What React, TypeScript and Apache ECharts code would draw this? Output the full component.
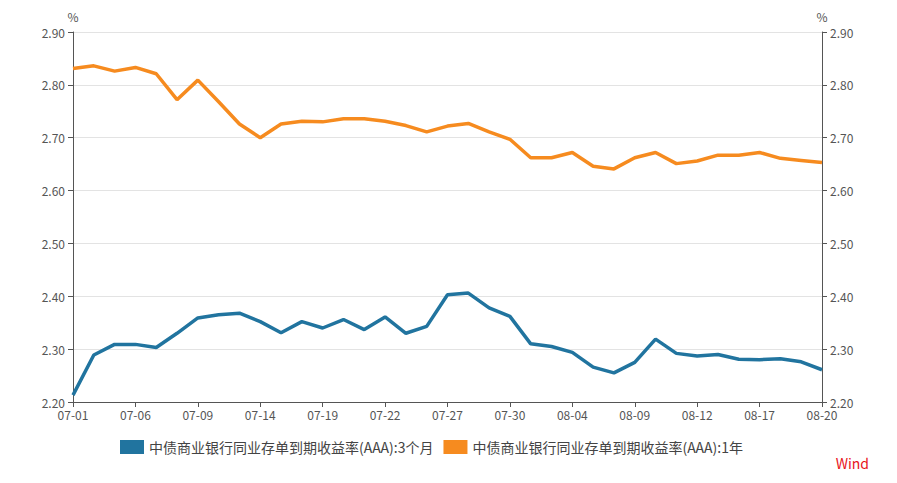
import React, { useEffect, useRef } from "react";
import * as echarts from "echarts";

const dates = [
  "07-01", "07-02", "07-05", "07-06", "07-07", "07-08", "07-09",
  "07-12", "07-13", "07-14", "07-15", "07-16",
  "07-19", "07-20", "07-21", "07-22", "07-23",
  "07-26", "07-27", "07-28", "07-29", "07-30",
  "08-02", "08-03", "08-04", "08-05", "08-06",
  "08-09", "08-10", "08-11", "08-12", "08-13",
  "08-16", "08-17", "08-18", "08-19", "08-20",
];

const seriesNames = [
  "中债商业银行同业存单到期收益率(AAA):3个月",
  "中债商业银行同业存单到期收益率(AAA):1年",
];

const threeMonth = [
  2.213, 2.289, 2.309, 2.309, 2.303, 2.33, 2.359, 2.365, 2.368, 2.352,
  2.331, 2.352, 2.34, 2.356, 2.337, 2.361, 2.33, 2.343, 2.403, 2.406,
  2.378, 2.362, 2.31, 2.305, 2.294, 2.266, 2.255, 2.275, 2.319, 2.292,
  2.287, 2.29, 2.281, 2.28, 2.282, 2.276, 2.261,
];

const oneYear = [
  2.831, 2.836, 2.826, 2.833, 2.821, 2.772, 2.809, 2.768, 2.726, 2.7,
  2.726, 2.731, 2.73, 2.736, 2.736, 2.731, 2.723, 2.711, 2.722, 2.727,
  2.711, 2.697, 2.662, 2.662, 2.672, 2.646, 2.641, 2.662, 2.672, 2.651,
  2.656, 2.667, 2.667, 2.672, 2.661, 2.657, 2.653,
];

const yMin = 2.2;
const yMax = 2.9;
const yStep = 0.1;

const FONT = "'Noto Sans CJK SC', 'Noto Sans', sans-serif";

export default function App() {
  const ref = useRef<HTMLDivElement>(null);

  useEffect(() => {
    if (!ref.current) return;
    const chart = echarts.init(ref.current, null, { renderer: "svg" });

    const yAxisCommon = {
      type: "value" as const,
      min: yMin,
      max: yMax,
      interval: yStep,
      name: "%",
      nameLocation: "end" as const,
      nameGap: 10,
      nameTextStyle: { color: "#555", fontSize: 12, fontFamily: FONT },
      axisLine: { show: true, lineStyle: { color: "#555", width: 1 } },
      axisTick: { show: true, length: 5, lineStyle: { color: "#555" } },
      axisLabel: {
        color: "#555",
        fontSize: 12,
        fontFamily: FONT,
        formatter: (v: number) => v.toFixed(2),
      },
    };

    chart.setOption({
      animation: false,
      backgroundColor: "#fff",
      textStyle: { fontFamily: FONT },
      grid: { left: 73, right: 75, top: 32, bottom: 81, containLabel: false },
      legend: {
        left: 115,
        top: 435,
        itemWidth: 24,
        itemHeight: 14,
        itemGap: 10,
        icon: "rect",
        textStyle: { color: "#444", fontSize: 14, fontFamily: FONT },
        data: seriesNames,
      },
      graphic: [
        {
          type: "text",
          right: 28,
          top: 456,
          style: {
            text: "Wind",
            fill: "#e8141b",
            fontSize: 14,
            fontFamily: FONT,
          },
        },
      ],
      xAxis: {
        type: "category",
        data: dates,
        boundaryGap: false,
        axisLine: { show: true, lineStyle: { color: "#555" } },
        axisTick: { show: true, interval: 2, length: 5, lineStyle: { color: "#555" } },
        axisLabel: {
          interval: 2,
          color: "#555",
          fontSize: 12,
          fontFamily: FONT,
          margin: 6,
        },
        splitLine: { show: false },
      },
      yAxis: [
        {
          ...yAxisCommon,
          position: "left",
          splitLine: { show: true, lineStyle: { color: "#e3e3e3", width: 1 } },
        },
        {
          ...yAxisCommon,
          position: "right",
          splitLine: { show: false },
        },
      ],
      series: [
        {
          name: seriesNames[0],
          type: "line",
          data: threeMonth,
          yAxisIndex: 0,
          showSymbol: false,
          symbol: "none",
          lineStyle: { color: "#21749f", width: 3.5 },
          itemStyle: { color: "#21749f" },
        },
        {
          name: seriesNames[1],
          type: "line",
          data: oneYear,
          yAxisIndex: 0,
          showSymbol: false,
          symbol: "none",
          lineStyle: { color: "#f68b1f", width: 3.5 },
          itemStyle: { color: "#f68b1f" },
        },
      ],
    });

    return () => chart.dispose();
  }, []);

  return (
    <div
      ref={ref}
      style={{ position: "fixed", left: 0, top: 0, width: 897, height: 483 }}
    />
  );
}
